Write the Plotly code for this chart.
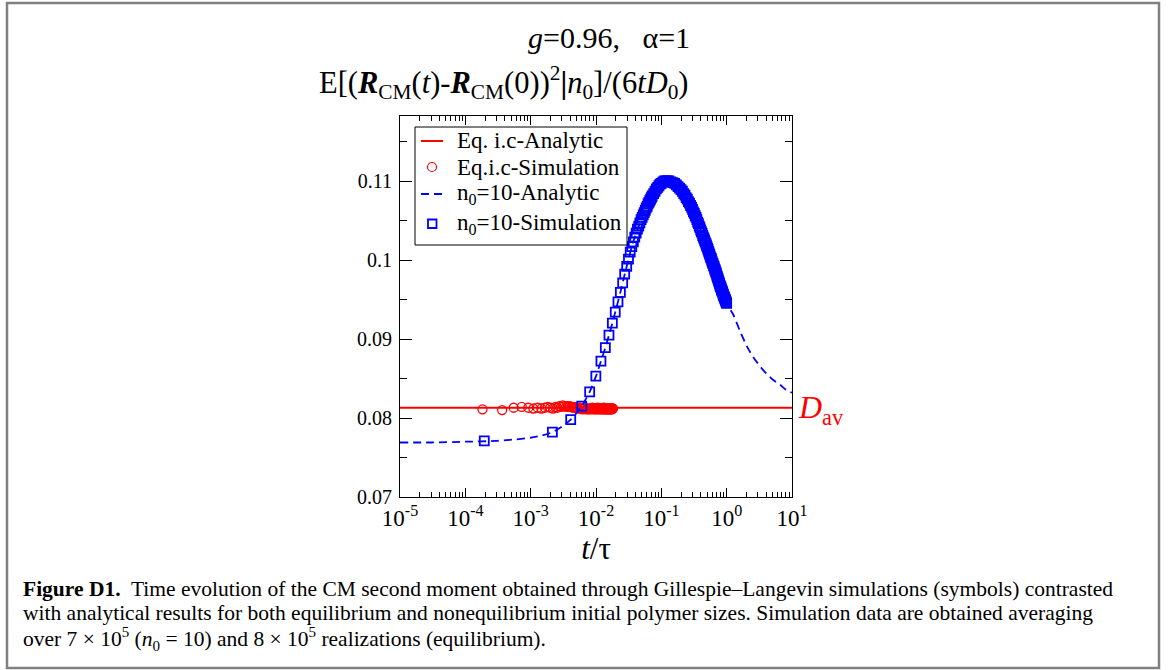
import plotly.graph_objects as go

# ---------------- data ----------------
eq_analytic_t = [1e-5, 10.0]
eq_analytic_v = [0.0813, 0.0813]

eq_sim_t = [1.83e-4, 3.66e-4, 5.5e-4, 7.3e-4, 9.2e-4, 1.10e-3, 1.28e-3, 1.46e-3, 1.65e-3,
            1.83e-3, 2.0e-3, 2.2e-3, 2.4e-3, 2.56e-3, 2.75e-3, 2.93e-3, 3.1e-3, 3.3e-3,
            3.5e-3, 3.7e-3, 3.85e-3, 4.0e-3, 4.2e-3, 4.4e-3, 4.6e-3, 4.8e-3,
            5.0e-3, 5.3e-3, 5.6e-3, 5.9e-3, 6.2e-3, 6.5e-3, 6.8e-3, 7.1e-3, 7.4e-3,
            7.7e-3, 8.0e-3, 8.3e-3, 8.6e-3, 8.9e-3, 9.2e-3, 9.5e-3, 9.8e-3, 0.0101,
            0.0104, 0.0107, 0.0110, 0.0113, 0.0116, 0.0119, 0.0122, 0.0125, 0.0128,
            0.0131, 0.0134, 0.0137, 0.0140, 0.0143, 0.0146, 0.0149, 0.0152, 0.0155,
            0.0158, 0.0161, 0.0164, 0.0167, 0.0170, 0.0173, 0.0176, 0.0179, 0.0182]
eq_sim_v = [0.0811, 0.0810, 0.0813, 0.0814, 0.0813, 0.0812, 0.0813, 0.0812, 0.0813,
            0.0814, 0.0813, 0.0812, 0.0814, 0.0813, 0.0815, 0.0814, 0.0816, 0.0815,
            0.0814, 0.0815, 0.0814, 0.0815, 0.0814, 0.0813, 0.0814, 0.0813,
            0.0813, 0.0812, 0.0813, 0.0812, 0.0811, 0.0812, 0.0813, 0.0811, 0.0812,
            0.0811, 0.0812, 0.0811, 0.0812, 0.0813, 0.0811, 0.0812, 0.0811, 0.0812,
            0.0811, 0.0813, 0.0812, 0.0811, 0.0812, 0.0811, 0.0812, 0.0811, 0.0812,
            0.0813, 0.0811, 0.0812, 0.0811, 0.0812, 0.0811, 0.0812, 0.0811, 0.0812,
            0.0811, 0.0812, 0.0811, 0.0812, 0.0811, 0.0812, 0.0811, 0.0812, 0.0812]

n0_analytic_t = [1e-5, 3e-5, 1e-4, 3e-4, 6e-4, 1e-3, 1.5e-3, 2.15e-3, 3e-3, 4.1e-3, 5e-3,
                 6.05e-3, 8e-3, 0.01, 0.0119, 0.0139, 0.0158, 0.0178, 0.0197, 0.0236,
                 0.0275, 0.0314, 0.0353, 0.04, 0.045, 0.05, 0.06, 0.07, 0.08, 0.09, 0.1,
                 0.12, 0.14, 0.17, 0.2, 0.25, 0.3, 0.4, 0.5, 0.6, 0.7, 0.8, 1.0, 1.26,
                 1.6, 2.06, 2.6, 3.6, 5.0, 6.6, 8.0, 10.0]
n0_analytic_v = [0.0769, 0.0769, 0.0770, 0.0771, 0.0773, 0.0775, 0.0778, 0.0782, 0.0789,
                 0.0798, 0.0806, 0.0815, 0.0833, 0.0853, 0.0872, 0.0889, 0.0905, 0.0920,
                 0.0934, 0.0959, 0.0982, 0.1001, 0.1017, 0.1031, 0.1043, 0.1053, 0.1068,
                 0.1079, 0.1087, 0.1093, 0.1097, 0.1100, 0.1099, 0.1095, 0.1089, 0.1077,
                 0.1064, 0.1038, 0.1017, 0.0998, 0.0982, 0.0967, 0.0945, 0.0931, 0.0910,
                 0.0890, 0.0876, 0.0861, 0.0849, 0.0842, 0.0836, 0.0832]

n0_sim_t = [1.95e-4, 2.15e-3, 4.1e-3, 6.05e-3, 8.0e-3, 9.95e-3, 0.0119, 0.0139, 0.0158,
            0.0178, 0.0197, 0.0217, 0.0236, 0.0256, 0.0275, 0.0295, 0.0314, 0.0334,
            0.0353, 0.0373, 0.0392, 0.0412, 0.0431, 0.0451, 0.0470, 0.0490, 0.0509,
            0.0529, 0.0548, 0.0568, 0.0587, 0.0607, 0.0626, 0.0646, 0.0665, 0.0685,
            0.0704, 0.0724, 0.0763, 0.0802, 0.0841, 0.0880, 0.0919, 0.0958, 0.100,
            0.106, 0.112, 0.118, 0.124,
            0.13, 0.14, 0.15, 0.16, 0.17, 0.18, 0.19, 0.20, 0.21, 0.22, 0.23, 0.24,
            0.25, 0.26, 0.27, 0.28, 0.29, 0.30, 0.31, 0.32, 0.33, 0.34, 0.35, 0.36,
            0.37, 0.38, 0.39, 0.40, 0.41, 0.42, 0.43, 0.44, 0.45, 0.46, 0.47, 0.48,
            0.49, 0.50, 0.51, 0.52, 0.53, 0.54, 0.55, 0.56, 0.57, 0.58, 0.59, 0.60,
            0.61, 0.62, 0.63, 0.64, 0.65, 0.66, 0.67, 0.68, 0.69, 0.70, 0.71, 0.72,
            0.73, 0.74, 0.75, 0.76, 0.77, 0.78, 0.79, 0.80, 0.81, 0.82, 0.83, 0.84,
            0.85, 0.86, 0.87, 0.88, 0.89, 0.90, 0.91, 0.92, 0.93, 0.94, 0.95, 0.96,
            0.97, 0.98, 0.99, 1.00]
n0_sim_v = [0.0771, 0.0782, 0.0798, 0.0815, 0.0833, 0.0853, 0.0872, 0.0889, 0.0905,
            0.0920, 0.0934, 0.0947, 0.0959, 0.0971, 0.0982, 0.0992, 0.1001, 0.1010,
            0.1017, 0.1023, 0.1029, 0.1034, 0.1039, 0.1043, 0.1047, 0.1051, 0.1054,
            0.1057, 0.1060, 0.1063, 0.1066, 0.1068, 0.1071, 0.1073, 0.1075, 0.1077,
            0.1079, 0.1081, 0.1084, 0.1087, 0.1090, 0.1092, 0.1094, 0.1096, 0.1097,
            0.1099, 0.1100, 0.1100, 0.1100,
            0.1100, 0.1099, 0.1098, 0.1097, 0.1095, 0.1093, 0.1091, 0.1089, 0.1087,
            0.1084, 0.1082, 0.1079, 0.1077, 0.1074, 0.1072, 0.1069, 0.1067, 0.1064,
            0.1061, 0.1059, 0.1056, 0.1054, 0.1051, 0.1048, 0.1046, 0.1043, 0.1041,
            0.1038, 0.1036, 0.1034, 0.1031, 0.1029, 0.1027, 0.1025, 0.1023, 0.1021,
            0.1019, 0.1017, 0.1015, 0.1013, 0.1011, 0.1009, 0.1007, 0.1005, 0.1003,
            0.1002, 0.1000, 0.0998, 0.0996, 0.0995, 0.0993, 0.0992, 0.0990, 0.0988,
            0.0987, 0.0985, 0.0984, 0.0982, 0.0980, 0.0979, 0.0977, 0.0976, 0.0974,
            0.0973, 0.0971, 0.0970, 0.0968, 0.0967, 0.0966, 0.0965, 0.0963, 0.0962,
            0.0961, 0.0960, 0.0959, 0.0957, 0.0956, 0.0955, 0.0954, 0.0953, 0.0952,
            0.0951, 0.0950, 0.0949, 0.0948, 0.0947, 0.0946, 0.0945]

x_tick_vals = [1e-5, 1e-4, 1e-3, 1e-2, 1e-1, 1e0, 1e1]
x_tick_text = ["10<sup>-5</sup>", "10<sup>-4</sup>", "10<sup>-3</sup>", "10<sup>-2</sup>",
               "10<sup>-1</sup>", "10<sup>0</sup>", "10<sup>1</sup>"]
y_tick_vals = [0.07, 0.08, 0.09, 0.10, 0.11]
y_tick_text = ["0.07", "0.08", "0.09", "0.1", "0.11"]

legend_names = ["Eq. i.c-Analytic", "Eq.i.c-Simulation",
                "n<sub>0</sub>=10-Analytic", "n<sub>0</sub>=10-Simulation"]

# ---------------- layout helpers ----------------
W, H = 1174, 670
L, R, T, B = 400, 792, 116, 497   # plot area in pixels
FONT = "Liberation Serif"
RED = "#ff0000"
BLUE = "#0000ff"
DASH = "8px,5px"


def px_x(x):
    return (x - L) / (R - L)


def px_y(y):
    return (B - y) / (B - T)


fig = go.Figure()
fig.add_trace(go.Scatter(x=eq_analytic_t, y=eq_analytic_v, mode="lines",
                         line=dict(color=RED, width=2), name=legend_names[0]))
fig.add_trace(go.Scatter(x=eq_sim_t, y=eq_sim_v, mode="markers",
                         marker=dict(symbol="circle-open", size=9, color=RED,
                                     line=dict(width=1.3, color=RED)),
                         name=legend_names[1]))
fig.add_trace(go.Scatter(x=n0_analytic_t, y=n0_analytic_v, mode="lines",
                         line=dict(color=BLUE, width=1.8, dash=DASH, shape="spline",
                                   smoothing=0.6),
                         name=legend_names[2]))
fig.add_trace(go.Scatter(x=n0_sim_t, y=n0_sim_v, mode="markers",
                         marker=dict(symbol="square-open", size=9, color=BLUE,
                                     line=dict(width=1.8, color=BLUE)),
                         name=legend_names[3]))

minor_x = [m * 10 ** k for k in range(-5, 1) for m in range(2, 10)]

fig.update_xaxes(type="log", range=[-5, 1], showgrid=False, zeroline=False,
                 showline=True, linecolor="black", linewidth=1, mirror="allticks",
                 ticks="inside", ticklen=9, tickwidth=1, tickcolor="black",
                 tickmode="array", tickvals=x_tick_vals, ticktext=x_tick_text,
                 tickfont=dict(family=FONT, size=23, color="black"),
                 minor=dict(ticks="inside", ticklen=5, tickwidth=1, tickcolor="black",
                            tickmode="array", tickvals=minor_x, showgrid=False),
                 title=dict(text="<i>t</i>/τ", font=dict(family=FONT, size=31, color="black"),
                            standoff=2))
fig.update_yaxes(range=[0.07, 0.07 + (B - T) / 7900], showgrid=False, zeroline=False,
                 showline=True, linecolor="black", linewidth=1, mirror="allticks",
                 ticks="inside", ticklen=12, tickwidth=1, tickcolor="black",
                 tickmode="array", tickvals=y_tick_vals, ticktext=y_tick_text,
                 tickfont=dict(family=FONT, size=20, color="black"),
                 ticklabelstandoff=3,
                 minor=dict(ticks="inside", ticklen=7, tickwidth=1, tickcolor="black",
                            dtick=0.005, showgrid=False))

annotations = [
    dict(text="<i>g</i>=0.96,\u00a0\u00a0\u00a0α=1", x=px_x(609), y=px_y(38),
         xanchor="center", yanchor="middle", font=dict(size=30)),
    dict(text="E[(<b><i>R</i></b><sub>CM</sub>(<i>t</i>)-<b><i>R</i></b><sub>CM</sub>(0))"
              "<sup>2</sup><b>|</b><i>n</i><sub>0</sub>]/(6<i>tD</i><sub>0</sub>)",
         x=px_x(317), y=px_y(82), xanchor="left", yanchor="middle", font=dict(size=30.5)),
    dict(text="<i>D</i><sub>av</sub>", x=px_x(796), y=px_y(409), xanchor="left",
         yanchor="middle", font=dict(size=32, color=RED)),
    dict(text="<b>Figure D1.</b>\u00a0 Time evolution of the CM second moment obtained through "
              "Gillespie–Langevin simulations (symbols) contrasted",
         x=px_x(21), y=px_y(589), xanchor="left", yanchor="middle", font=dict(size=21.5)),
    dict(text="with analytical results for both equilibrium and nonequilibrium initial polymer "
              "sizes. Simulation data are obtained averaging",
         x=px_x(21), y=px_y(613), xanchor="left", yanchor="middle", font=dict(size=21.5)),
    dict(text="over 7 × 10<sup>5</sup> (<i>n</i><sub>0</sub> = 10) and 8 × 10<sup>5</sup> "
              "realizations (equilibrium).",
         x=px_x(21), y=px_y(639), xanchor="left", yanchor="middle", font=dict(size=21.5)),
]

# legend drawn by hand (box, symbols, labels)
legend_rows_y = [141, 167, 194, 224]
for name, ry in zip(legend_names, legend_rows_y):
    annotations.append(dict(text=name, x=px_x(455), y=px_y(ry), xanchor="left",
                            yanchor="middle", font=dict(size=23)))

for a in annotations:
    a.update(xref="paper", yref="paper", showarrow=False)
    f = a["font"]
    f.setdefault("color", "black")
    f["family"] = FONT

shapes = [
    dict(type="rect", x0=px_x(7), x1=px_x(1159), y0=px_y(668), y1=px_y(3),
         line=dict(color="#808080", width=2.5), fillcolor="rgba(0,0,0,0)", layer="below"),
    dict(type="rect", x0=px_x(415), x1=px_x(627), y0=px_y(245), y1=px_y(127),
         line=dict(color="black", width=1), fillcolor="white", layer="above"),
    dict(type="line", x0=px_x(421), x1=px_x(443), y0=px_y(141), y1=px_y(141),
         line=dict(color=RED, width=2), layer="above"),
    dict(type="circle", x0=px_x(427.5), x1=px_x(436.5), y0=px_y(171.5), y1=px_y(162.5),
         line=dict(color=RED, width=1.2), layer="above"),
    dict(type="line", x0=px_x(421), x1=px_x(443), y0=px_y(194), y1=px_y(194),
         line=dict(color=BLUE, width=1.8, dash=DASH), layer="above"),
    dict(type="rect", x0=px_x(428), x1=px_x(436.5), y0=px_y(228), y1=px_y(219.5),
         line=dict(color=BLUE, width=1.8), layer="above"),
]
for s in shapes:
    s.update(xref="paper", yref="paper")

fig.update_layout(
    width=W, height=H, autosize=False,
    margin=dict(l=L, r=W - R, t=T, b=H - B, pad=0),
    paper_bgcolor="white", plot_bgcolor="white",
    font=dict(family=FONT, color="black"),
    annotations=annotations,
    shapes=shapes,
    showlegend=False,
)

fig.write_html("out.html")
